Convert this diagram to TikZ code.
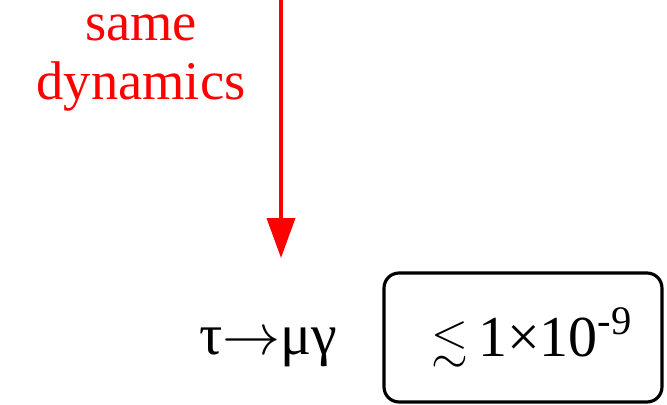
\RequirePackage{fix-cm}
\documentclass[tikz,border=0pt]{standalone}
\usepackage{amssymb}
\usepackage{fontspec}
\setmainfont{Liberation Serif}
\usepackage{tikz}
\usetikzlibrary{arrows.meta, positioning}
\definecolor{DynRed}{RGB}{255, 0, 0}

\begin{document}
\begin{tikzpicture}[
    x=0.02cm, y=-0.02cm,
    note/.style={
        text=DynRed, align=center, inner sep=0pt,
        font=\fontsize{31}{34}\selectfont
    },
    decay/.style={
        inner sep=0pt, font=\fontsize{33}{36}\selectfont
    },
    bound/.style={
        rectangle, rounded corners=0.3cm, draw=black, line width=1.8pt,
        minimum width=5.56cm, minimum height=2.58cm,
        text centered, font=\fontsize{33}{36}\selectfont
    },
    arr/.style={-{Triangle[length=0.8cm, width=0.56cm]}, line width=2.1pt, color=DynRed}
]
\useasboundingbox (0,0) rectangle (667,405);

\node[note, anchor=base] (same) at (141,100) {same\\dynamics};

\node[decay, anchor=base] (tau) at (268,355) {τ$\rightarrow$μγ};
\node[bound] (limit) at (523,337.5)
    {\hspace*{0.36cm}{\fontsize{27}{30}\selectfont$\lesssim$}\,1×10\textsuperscript{-9}};

\coordinate (src) at (281,0);
\coordinate (tip) at (281,258);
\draw[arr] (src) -- (tip);

\end{tikzpicture}
\end{document}
